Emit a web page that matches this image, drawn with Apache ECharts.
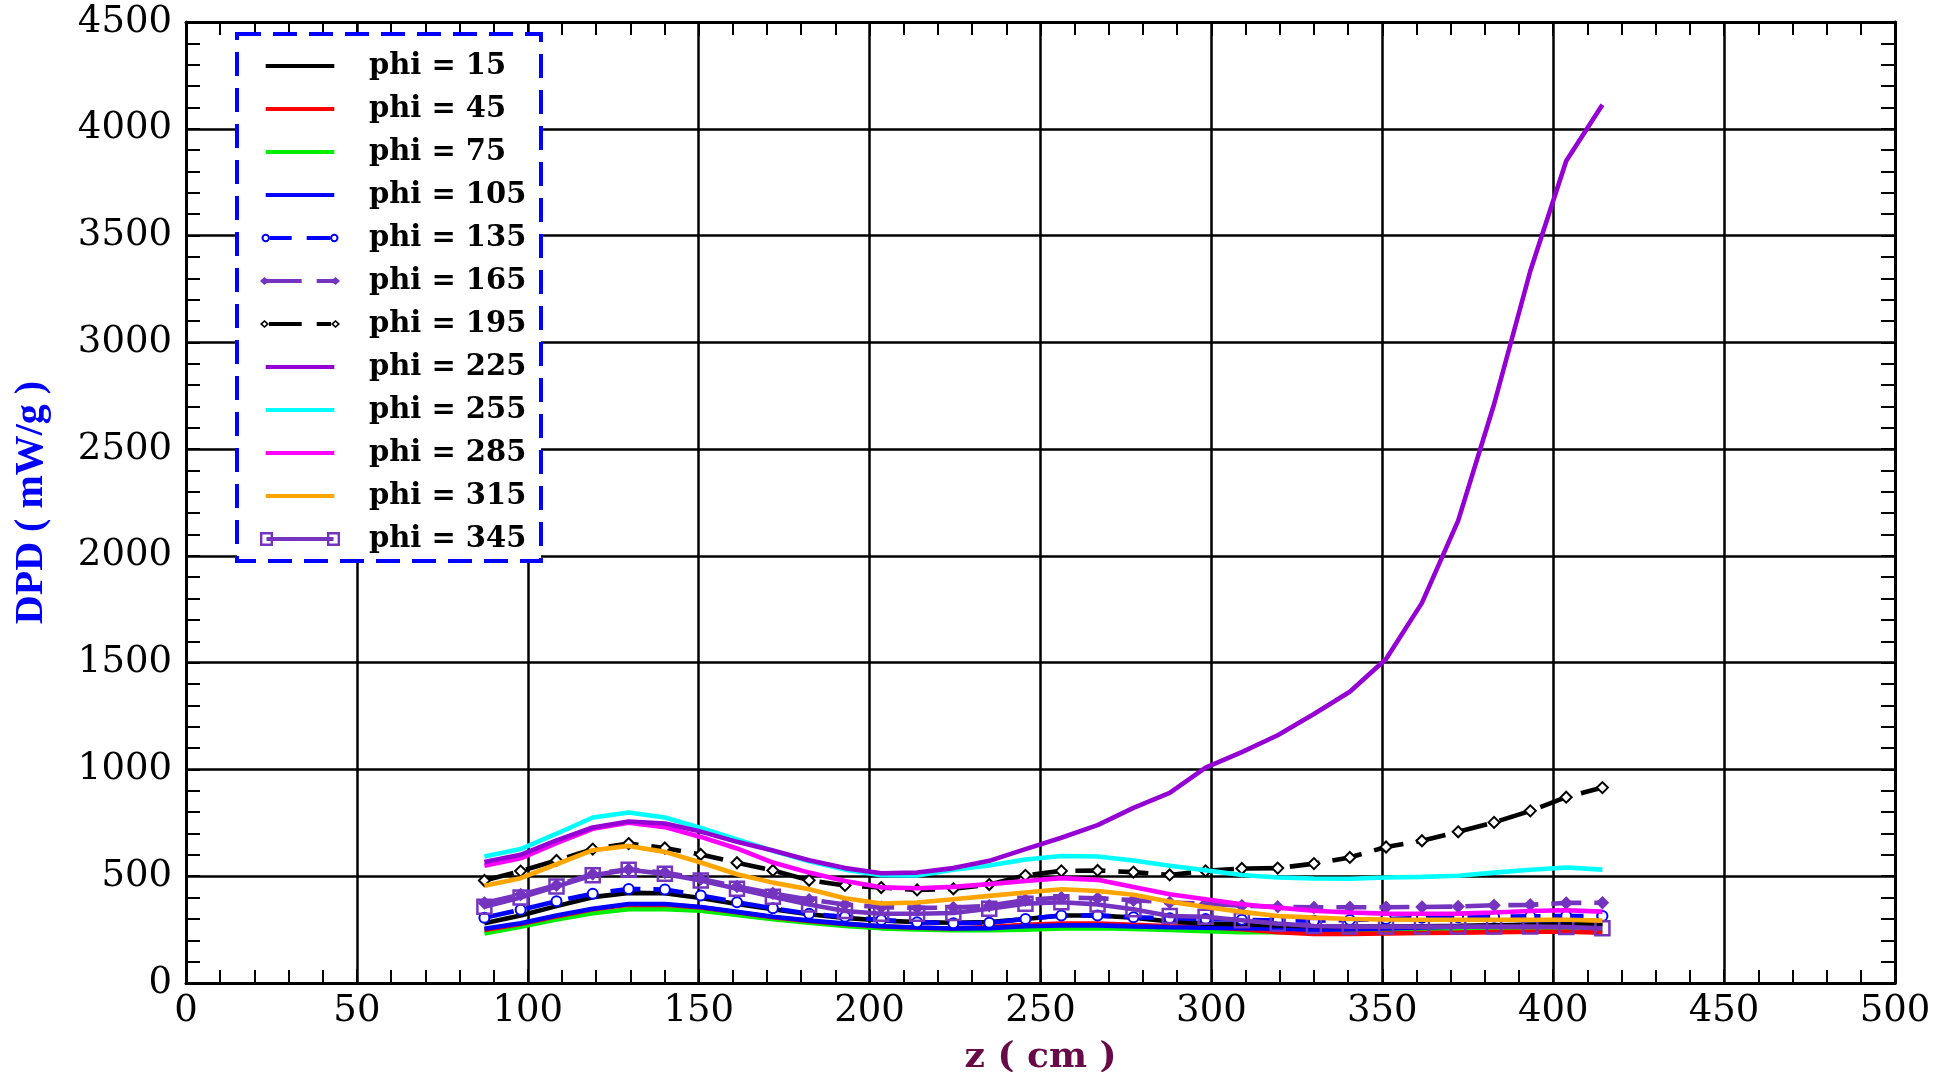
<!DOCTYPE html>
<html><head><meta charset="utf-8">
<script src="https://cdn.jsdelivr.net/npm/echarts@6/dist/echarts.min.js"></script>
<style>html,body{margin:0;padding:0;background:#fff}#c{width:1954px;height:1072px}</style>
</head><body><div id="c"></div>
<script>
// z positions (cm)
const zPos = [87.3, 97.9, 108.4, 119.0, 129.5, 140.1, 150.6, 161.2, 171.7, 182.3, 192.8, 203.4, 213.9, 224.5, 235.0, 245.6, 256.1, 266.7, 277.2, 287.8, 298.3, 308.9, 319.4, 330.0, 340.5, 351.1, 361.6, 372.2, 382.7, 393.3, 403.8, 414.4];
// DPD values (mW/g)
const phi15  = [280, 316, 360, 402, 422, 420, 398, 370, 345, 322, 305, 293, 285, 282, 285, 300, 316, 316, 306, 288, 278, 275, 270, 266, 264, 264, 266, 268, 270, 272, 274, 276];
const phi45  = [248, 276, 312, 345, 366, 367, 354, 331, 308, 291, 276, 265, 259, 255, 262, 272, 278, 278, 272, 265, 262, 252, 238, 230, 230, 232, 234, 236, 238, 240, 240, 236];
const phi75  = [232, 263, 297, 327, 345, 345, 338, 318, 299, 282, 267, 256, 251, 247, 247, 250, 256, 257, 253, 248, 243, 238, 238, 238, 240, 242, 244, 246, 248, 250, 250, 248];
const phi105 = [254, 280, 316, 348, 370, 370, 356, 333, 310, 293, 278, 266, 260, 255, 257, 266, 270, 270, 265, 261, 259, 257, 254, 250, 252, 256, 260, 264, 268, 272, 275, 276];
const phi135 = [305, 343, 383, 418, 440, 438, 410, 378, 350, 324, 310, 295, 285, 280, 282, 300, 316, 316, 308, 303, 300, 296, 293, 292, 295, 300, 305, 308, 310, 312, 314, 314];
const phi165 = [375, 414, 458, 510, 532, 517, 487, 452, 420, 390, 368, 355, 352, 353, 362, 388, 400, 397, 388, 377, 372, 362, 357, 354, 355, 355, 356, 358, 364, 366, 375, 376];
const phi195 = [480, 524, 574, 627, 653, 632, 602, 563, 527, 481, 457, 447, 436, 441, 461, 504, 525, 527, 519, 506, 525, 536, 538, 559, 588, 637, 666, 708, 752, 806, 870, 915];
const phi225 = [567, 600, 668, 728, 756, 747, 709, 661, 620, 575, 538, 514, 517, 538, 572, 627, 680, 739, 820, 890, 1008, 1081, 1160, 1260, 1364, 1517, 1780, 2165, 2710, 3334, 3849, 4112];
const phi255 = [592, 627, 699, 775, 798, 775, 726, 672, 619, 570, 531, 505, 504, 530, 550, 578, 595, 592, 574, 549, 528, 506, 494, 489, 488, 494, 497, 502, 517, 530, 541, 531];
const phi285 = [549, 584, 655, 722, 750, 730, 684, 630, 564, 517, 478, 448, 444, 450, 463, 478, 491, 483, 450, 416, 392, 369, 353, 338, 330, 325, 324, 325, 330, 337, 341, 334];
const phi315 = [455, 491, 556, 622, 642, 614, 564, 509, 470, 439, 397, 372, 377, 392, 408, 424, 439, 431, 413, 381, 356, 333, 314, 306, 300, 297, 296, 296, 296, 296, 296, 292];
const phi345 = [357, 400, 452, 504, 530, 511, 480, 441, 404, 368, 337, 324, 324, 328, 348, 371, 378, 368, 345, 314, 310, 294, 278, 267, 264, 264, 264, 264, 264, 264, 262, 256];
const seriesNames = ['phi = 15','phi = 45','phi = 75','phi = 105','phi = 135','phi = 165','phi = 195','phi = 225','phi = 255','phi = 285','phi = 315','phi = 345'];
const xTicks = [0, 50, 100, 150, 200, 250, 300, 350, 400, 450, 500];
const yTicks = [0, 500, 1000, 1500, 2000, 2500, 3000, 3500, 4000, 4500];

const allValues = [phi15, phi45, phi75, phi105, phi135, phi165, phi195, phi225, phi255, phi285, phi315, phi345];

// legend icon shapes (80 x 14 box)
const BOX = 'M0,0L0,0ZM80,14L80,14Z';
const icSolid = 'path://' + BOX + 'M5.7,5.1H74.3V8.9H5.7Z';
const icCircle = 'path://' + BOX +
  'M1.5,7A4.2,4.2 0 1 1 9.9,7A4.2,4.2 0 1 1 1.5,7Z' +
  'M3.5,7A2.2,2.2 0 1 0 7.9,7A2.2,2.2 0 1 0 3.5,7Z' +
  'M70.1,7A4.2,4.2 0 1 1 78.5,7A4.2,4.2 0 1 1 70.1,7Z' +
  'M72.1,7A2.2,2.2 0 1 0 76.5,7A2.2,2.2 0 1 0 72.1,7Z' +
  'M9.9,5.1H31.7V8.9H9.9Z' + 'M46.7,5.1H70.1V8.9H46.7Z';
const icDiamond = 'path://' + BOX +
  'M0,7L4.5,3L9,7L4.5,11Z' + 'M71,7L75.5,3L80,7L75.5,11Z' +
  'M5,5.1H41.7V8.9H5Z' + 'M56.7,5.1H75V8.9H56.7Z';
const icEmptyDiamond = 'path://' + BOX +
  'M0,7L4.5,3L9,7L4.5,11Z' + 'M2.4,7L4.5,8.9L6.6,7L4.5,5.1Z' +
  'M71,7L75.5,3L80,7L75.5,11Z' + 'M73.4,7L75.5,8.9L77.6,7L75.5,5.1Z' +
  'M9,5.1H41.7V8.9H9Z' + 'M56.7,5.1H71V8.9H56.7Z';
const icSquare = 'path://' + BOX +
  'M0,0H13V14H0Z' + 'M2.4,2.4V11.6H10.6V2.4Z' +
  'M67,0H80V14H67Z' + 'M69.4,2.4V11.6H77.6V2.4Z' +
  'M6.5,5.1H73.5V8.9H6.5Z';

const styles = [
  {color:'#000000', icon: icSolid},
  {color:'#ff0000', icon: icSolid},
  {color:'#00ee00', icon: icSolid},
  {color:'#0000ff', icon: icSolid},
  {color:'#0000ff', dash:[30,13], symbol:'emptyCircle', size:10, icon: icCircle},
  {color:'#7434c0', dash:[30,13], symbol:'diamond', size:10, icon: icDiamond},
  {color:'#000000', dash:[30,13], symbol:'emptyDiamond', size:11, icon: icEmptyDiamond},
  {color:'#9400d3', icon: icSolid},
  {color:'#00ffff', icon: icSolid},
  {color:'#ff00ff', icon: icSolid},
  {color:'#ffa500', icon: icSolid},
  {color:'#7434c0', symbol:'rect', size:14, hollow: true, icon: icSquare}
];
const order = [7,8,9,10,6,5,11,4,0,3,1,2];
const series = seriesNames.map((name, i) => {
  const s = styles[i];
  return {
    name: name,
    type: 'line',
    data: zPos.map((z, k) => [z, allValues[i][k]]),
    color: s.color,
    lineStyle: {color: s.color, width: 4.6, type: s.dash ? s.dash : 'solid'},
    symbol: s.symbol || 'none',
    symbolSize: s.size || 0,
    showSymbol: !!s.symbol,
    showAllSymbol: true,
    itemStyle: {color: s.hollow ? 'rgba(0,0,0,0)' : s.color, borderColor: s.color, borderWidth: 2.5},
    z: 2 + (12 - order.indexOf(i)) * 0.01,
    animation: false
  };
});

const fontAxis = 'DejaVu Serif';
const chart = echarts.init(document.getElementById('c'), null, {renderer:'canvas'});
chart.setOption({
  backgroundColor: '#ffffff',
  animation: false,
  grid: {left: 186, right: 59, top: 22, bottom: 89, containLabel: false, outerBoundsMode: 'none'},
  xAxis: [{
    type: 'value', min: xTicks[0], max: xTicks[xTicks.length-1], interval: 50, position: 'bottom',
    name: 'z ( cm )', nameLocation: 'middle', nameGap: 57,
    nameTextStyle: {fontFamily: fontAxis, fontWeight: 'bold', fontSize: 36, color: '#680a48'},
    axisLine: {show: true, onZero: false, lineStyle: {color: '#000', width: 3}},
    axisTick: {show: true, inside: true, length: 14, lineStyle: {color: '#000', width: 2}},
    minorTick: {show: true, splitNumber: 5, length: 13, lineStyle: {color: '#000', width: 2}},
    splitLine: {show: true, lineStyle: {color: '#000', width: 2.5}},
    axisLabel: {fontFamily: fontAxis, fontSize: 37, color: '#000', margin: 10, formatter: v => String(v)}
  }, {
    type: 'value', min: 0, max: 500, interval: 50, position: 'top',
    axisLine: {show: true, onZero: false, lineStyle: {color: '#000', width: 3}},
    axisTick: {show: true, inside: true, length: 14, lineStyle: {color: '#000', width: 2}},
    minorTick: {show: true, splitNumber: 5, length: 13, lineStyle: {color: '#000', width: 2}},
    splitLine: {show: false}, axisLabel: {show: false}
  }],
  yAxis: [{
    type: 'value', min: yTicks[0], max: yTicks[yTicks.length-1], interval: 500, position: 'left',
    name: 'DPD ( mW/g )', nameLocation: 'middle', nameGap: 134,
    nameTextStyle: {fontFamily: 'Liberation Serif', fontWeight: 'bold', fontSize: 40, color: '#0000ff'},
    axisLine: {show: true, onZero: false, lineStyle: {color: '#000', width: 3}},
    axisTick: {show: true, inside: true, length: 14, lineStyle: {color: '#000', width: 2}},
    minorTick: {show: true, splitNumber: 5, length: 14, lineStyle: {color: '#000', width: 2}},
    splitLine: {show: true, lineStyle: {color: '#000', width: 2.5}},
    axisLabel: {fontFamily: fontAxis, fontSize: 37, color: '#000', margin: 14, formatter: v => String(v)}
  }, {
    type: 'value', min: 0, max: 4500, interval: 500, position: 'right',
    axisLine: {show: true, onZero: false, lineStyle: {color: '#000', width: 3}},
    axisTick: {show: true, inside: true, length: 14, lineStyle: {color: '#000', width: 2}},
    minorTick: {show: true, splitNumber: 5, length: 14, lineStyle: {color: '#000', width: 2}},
    splitLine: {show: false}, axisLabel: {show: false}
  }],
  graphic: [{
    type: 'rect', z: 3,
    shape: {x: 237, y: 34, width: 304, height: 527},
    style: {fill: '#ffffff', stroke: '#0000ff', lineWidth: 4, lineDash: [24, 12]}
  }],
  legend: {
    orient: 'vertical', left: 255, top: 46, z: 5,
    itemWidth: 80, itemHeight: 14, itemGap: 13,
    symbolKeepAspect: false,
    selectedMode: false,
    data: seriesNames.map((n, i) => ({name: n, icon: styles[i].icon, itemStyle: {color: styles[i].color, borderWidth: 0}})),
    textStyle: {fontFamily: fontAxis, fontWeight: 'bold', fontSize: 29, color: '#000', lineHeight: 30, padding: [0, 0, 0, 24]}
  },
  series: series
});
</script></body></html>
